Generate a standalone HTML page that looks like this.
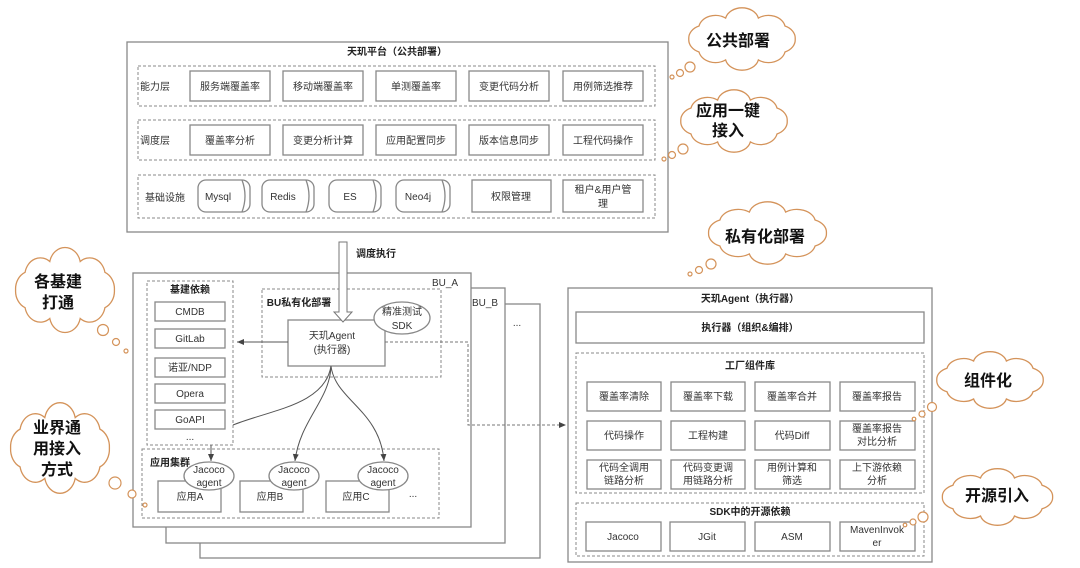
<!DOCTYPE html>
<html><head><meta charset="utf-8"><style>
html,body{margin:0;padding:0;background:#fff;}
svg{display:block;font-family:"Liberation Sans","Noto Sans CJK SC",sans-serif;}
.b{fill:#fff;stroke:#888;stroke-width:1.3;}
.d{fill:none;stroke:#888;stroke-width:1;stroke-dasharray:3,2;}
.t{font-size:10px;fill:#333;text-anchor:middle;}
.h{font-size:10px;fill:#222;font-weight:bold;text-anchor:middle;}
.c{font-size:16px;fill:#111;text-anchor:middle;font-weight:bold;}
.cl{fill:#fff;stroke:#d4935a;stroke-width:1.3;}
.bub{fill:#fff;stroke:#d4935a;stroke-width:1.2;}
</style></head><body>
<svg width="1080" height="568" viewBox="0 0 1080 568" xmlns="http://www.w3.org/2000/svg">
<defs>
<path id="cloud" vector-effect="non-scaling-stroke" d="M88,30 A12,12 0 0,1 80.7,41.8 A12,12 0 0,1 61.7,49 A12,12 0 0,1 38.3,49 A12,12 0 0,1 19.3,41.8 A12,12 0 0,1 12,30 A12,12 0 0,1 19.3,18.2 A12,12 0 0,1 38.3,11 A12,12 0 0,1 61.7,11 A12,12 0 0,1 80.7,18.2 A12,12 0 0,1 88,30 Z"/>
<marker id="ar" markerWidth="8" markerHeight="8" refX="7" refY="4" orient="auto" markerUnits="userSpaceOnUse"><path d="M0,1 L7,4 L0,7 Z" fill="#444"/></marker>
</defs>

<!-- top platform -->
<rect class="b" x="127" y="42" width="541" height="190"/>
<text class="h" x="397" y="55">天玑平台（公共部署）</text>
<rect class="d" x="138" y="66" width="517" height="40"/>
<text class="t" x="155" y="90">能力层</text>
<g>
<rect class="b" x="190" y="71" width="80" height="30"/><text class="t" x="230" y="90">服务端覆盖率</text>
<rect class="b" x="283" y="71" width="80" height="30"/><text class="t" x="323" y="90">移动端覆盖率</text>
<rect class="b" x="376" y="71" width="80" height="30"/><text class="t" x="416" y="90">单测覆盖率</text>
<rect class="b" x="469" y="71" width="80" height="30"/><text class="t" x="509" y="90">变更代码分析</text>
<rect class="b" x="563" y="71" width="80" height="30"/><text class="t" x="603" y="90">用例筛选推荐</text>
</g>
<rect class="d" x="138" y="120" width="517" height="40"/>
<text class="t" x="155" y="144">调度层</text>
<g>
<rect class="b" x="190" y="125" width="80" height="30"/><text class="t" x="230" y="144">覆盖率分析</text>
<rect class="b" x="283" y="125" width="80" height="30"/><text class="t" x="323" y="144">变更分析计算</text>
<rect class="b" x="376" y="125" width="80" height="30"/><text class="t" x="416" y="144">应用配置同步</text>
<rect class="b" x="469" y="125" width="80" height="30"/><text class="t" x="509" y="144">版本信息同步</text>
<rect class="b" x="563" y="125" width="80" height="30"/><text class="t" x="603" y="144">工程代码操作</text>
</g>
<rect class="d" x="138" y="175" width="517" height="43"/>
<text class="t" x="165" y="201">基础设施</text>
<g>
<rect class="b" x="198" y="180" width="52" height="32" rx="8"/><path class="b" d="M242,180 q6,16 0,32" fill="none"/><text class="t" x="218" y="200">Mysql</text>
<rect class="b" x="262" y="180" width="52" height="32" rx="8"/><path class="b" d="M306,180 q6,16 0,32" fill="none"/><text class="t" x="283" y="200">Redis</text>
<rect class="b" x="329" y="180" width="52" height="32" rx="8"/><path class="b" d="M373,180 q6,16 0,32" fill="none"/><text class="t" x="350" y="200">ES</text>
<rect class="b" x="396" y="180" width="54" height="32" rx="8"/><path class="b" d="M442,180 q6,16 0,32" fill="none"/><text class="t" x="418" y="200">Neo4j</text>
<rect class="b" x="472" y="180" width="79" height="32"/><text class="t" x="511" y="200">权限管理</text>
<rect class="b" x="563" y="180" width="80" height="32"/><text class="t" x="603" y="193">租户&amp;用户管</text><text class="t" x="603" y="207">理</text>
</g>

<!-- BU stacks -->
<rect class="b" x="200" y="304" width="340" height="254"/>
<rect class="b" x="166" y="288" width="339" height="255"/>
<rect class="b" x="133" y="273" width="338" height="254"/>
<text class="t" x="445" y="286" style="text-anchor:middle">BU_A</text>
<text class="t" x="485" y="306">BU_B</text>
<text class="t" x="517" y="326">...</text>

<rect class="d" x="147" y="281" width="86" height="164"/>
<text class="h" x="190" y="293">基建依赖</text>
<rect class="b" x="155" y="302" width="70" height="19"/><text class="t" x="190" y="315">CMDB</text>
<rect class="b" x="155" y="329" width="70" height="19"/><text class="t" x="190" y="342">GitLab</text>
<rect class="b" x="155" y="358" width="70" height="19"/><text class="t" x="190" y="371">诺亚/NDP</text>
<rect class="b" x="155" y="384" width="70" height="19"/><text class="t" x="190" y="397">Opera</text>
<rect class="b" x="155" y="410" width="70" height="19"/><text class="t" x="190" y="423">GoAPI</text>
<text class="t" x="190" y="440">...</text>

<rect class="d" x="262" y="289" width="179" height="88"/>
<text class="h" x="299" y="306">BU私有化部署</text>
<rect class="b" x="288" y="320" width="97" height="46"/>
<text class="t" x="332" y="339">天玑Agent</text>
<text class="t" x="332" y="353">(执行器)</text>
<ellipse class="b" cx="402" cy="318" rx="28" ry="16"/>
<text class="t" x="402" y="315">精准测试</text>
<text class="t" x="402" y="329">SDK</text>

<!-- 调度执行 hollow arrow -->
<path d="M339,242 L347,242 L347,312 L352,312 L343,322 L334,312 L339,312 Z" fill="#fff" stroke="#777" stroke-width="1"/>
<text class="h" x="376" y="257">调度执行</text>

<line x1="288" y1="342" x2="237" y2="342" stroke="#555" stroke-width="1" marker-end="url(#ar)"/>
<path d="M385,342 L468,342 L468,425 L566,425" fill="none" stroke="#777" stroke-dasharray="3,2" marker-end="url(#ar)"/>

<rect class="d" x="142" y="449" width="297" height="69"/>
<text class="h" x="170" y="466">应用集群</text>
<rect class="b" x="158" y="481" width="63" height="31"/><text class="t" x="190" y="500">应用A</text>
<rect class="b" x="240" y="481" width="63" height="31"/><text class="t" x="270" y="500">应用B</text>
<rect class="b" x="326" y="481" width="63" height="31"/><text class="t" x="356" y="500">应用C</text>
<text class="t" x="413" y="497">...</text>
<ellipse class="b" cx="209" cy="476" rx="25" ry="14"/><text class="t" x="209" y="473">Jacoco</text><text class="t" x="209" y="486">agent</text>
<ellipse class="b" cx="294" cy="476" rx="25" ry="14"/><text class="t" x="294" y="473">Jacoco</text><text class="t" x="294" y="486">agent</text>
<ellipse class="b" cx="383" cy="476" rx="25" ry="14"/><text class="t" x="383" y="473">Jacoco</text><text class="t" x="383" y="486">agent</text>

<path d="M331,366 C330,400 300,420 295,461" fill="none" stroke="#555" marker-end="url(#ar)"/>
<path d="M331,366 C335,400 380,410 384,461" fill="none" stroke="#555" marker-end="url(#ar)"/>
<path d="M233,425 C270,410 325,405 331,366" fill="none" stroke="#555"/>
<line x1="211" y1="445" x2="211" y2="461" stroke="#555" marker-end="url(#ar)"/>

<!-- right agent -->
<rect class="b" x="568" y="288" width="364" height="274"/>
<text class="h" x="750" y="302">天玑Agent（执行器）</text>
<rect class="b" x="576" y="312" width="348" height="31"/>
<text class="h" x="750" y="331">执行器（组织&amp;编排）</text>
<rect class="d" x="576" y="353" width="348" height="140"/>
<text class="h" x="750" y="369">工厂组件库</text>
<g>
<rect class="b" x="587" y="382" width="74" height="29"/><text class="t" x="624" y="400">覆盖率清除</text>
<rect class="b" x="671" y="382" width="74" height="29"/><text class="t" x="708" y="400">覆盖率下载</text>
<rect class="b" x="755" y="382" width="75" height="29"/><text class="t" x="792" y="400">覆盖率合并</text>
<rect class="b" x="840" y="382" width="75" height="29"/><text class="t" x="877" y="400">覆盖率报告</text>
<rect class="b" x="587" y="421" width="74" height="29"/><text class="t" x="624" y="439">代码操作</text>
<rect class="b" x="671" y="421" width="74" height="29"/><text class="t" x="708" y="439">工程构建</text>
<rect class="b" x="755" y="421" width="75" height="29"/><text class="t" x="792" y="439">代码Diff</text>
<rect class="b" x="840" y="421" width="75" height="29"/><text class="t" x="877" y="432">覆盖率报告</text><text class="t" x="877" y="445">对比分析</text>
<rect class="b" x="587" y="460" width="74" height="29"/><text class="t" x="624" y="471">代码全调用</text><text class="t" x="624" y="484">链路分析</text>
<rect class="b" x="671" y="460" width="74" height="29"/><text class="t" x="708" y="471">代码变更调</text><text class="t" x="708" y="484">用链路分析</text>
<rect class="b" x="755" y="460" width="75" height="29"/><text class="t" x="792" y="471">用例计算和</text><text class="t" x="792" y="484">筛选</text>
<rect class="b" x="840" y="460" width="75" height="29"/><text class="t" x="877" y="471">上下游依赖</text><text class="t" x="877" y="484">分析</text>
</g>
<rect class="d" x="576" y="503" width="348" height="53"/>
<text class="h" x="750" y="515">SDK中的开源依赖</text>
<rect class="b" x="586" y="522" width="75" height="29"/><text class="t" x="623" y="540">Jacoco</text>
<rect class="b" x="670" y="522" width="75" height="29"/><text class="t" x="707" y="540">JGit</text>
<rect class="b" x="755" y="522" width="75" height="29"/><text class="t" x="792" y="540">ASM</text>
<rect class="b" x="840" y="522" width="75" height="29"/><text class="t" x="877" y="533">MavenInvok</text><text class="t" x="877" y="546">er</text>

<!-- clouds -->
<use href="#cloud" class="cl" transform="translate(672,6) scale(1.4,1.1)"/>
<text class="c" x="738" y="46">公共部署</text>
<circle class="bub" cx="690" cy="67" r="5"/><circle class="bub" cx="680" cy="73" r="3.5"/><circle class="bub" cx="672" cy="77" r="2"/>

<use href="#cloud" class="cl" transform="translate(664,88) scale(1.4,1.1)"/>
<text class="c" x="728" y="116">应用一键</text><text class="c" x="728" y="136">接入</text>
<circle class="bub" cx="683" cy="149" r="5"/><circle class="bub" cx="672" cy="155" r="3.5"/><circle class="bub" cx="664" cy="159" r="2"/>

<use href="#cloud" class="cl" transform="translate(690,200) scale(1.55,1.1)"/>
<text class="c" x="765" y="242">私有化部署</text>
<circle class="bub" cx="711" cy="264" r="5"/><circle class="bub" cx="699" cy="270" r="3.5"/><circle class="bub" cx="690" cy="274" r="2"/>

<use href="#cloud" class="cl" transform="translate(0,245) scale(1.3,1.5)"/>
<text class="c" x="58" y="287">各基建</text><text class="c" x="58" y="308">打通</text>
<circle class="bub" cx="103" cy="330" r="5.5"/><circle class="bub" cx="116" cy="342" r="3.5"/><circle class="bub" cx="126" cy="351" r="2"/>

<use href="#cloud" class="cl" transform="translate(-5,400) scale(1.3,1.6)"/>
<text class="c" x="57" y="433">业界通</text><text class="c" x="57" y="454">用接入</text><text class="c" x="57" y="475">方式</text>
<circle class="bub" cx="115" cy="483" r="6"/><circle class="bub" cx="132" cy="494" r="4"/><circle class="bub" cx="145" cy="505" r="2"/>

<use href="#cloud" class="cl" transform="translate(920,350) scale(1.4,1.0)"/>
<text class="c" x="988" y="386">组件化</text>
<circle class="bub" cx="932" cy="407" r="4.5"/><circle class="bub" cx="922" cy="414" r="3"/><circle class="bub" cx="914" cy="419" r="1.8"/>

<use href="#cloud" class="cl" transform="translate(925,467) scale(1.45,1.0)"/>
<text class="c" x="997" y="501">开源引入</text>
<circle class="bub" cx="923" cy="517" r="5"/><circle class="bub" cx="913" cy="522" r="3"/><circle class="bub" cx="905" cy="525" r="1.8"/>
</svg>
</body></html>
